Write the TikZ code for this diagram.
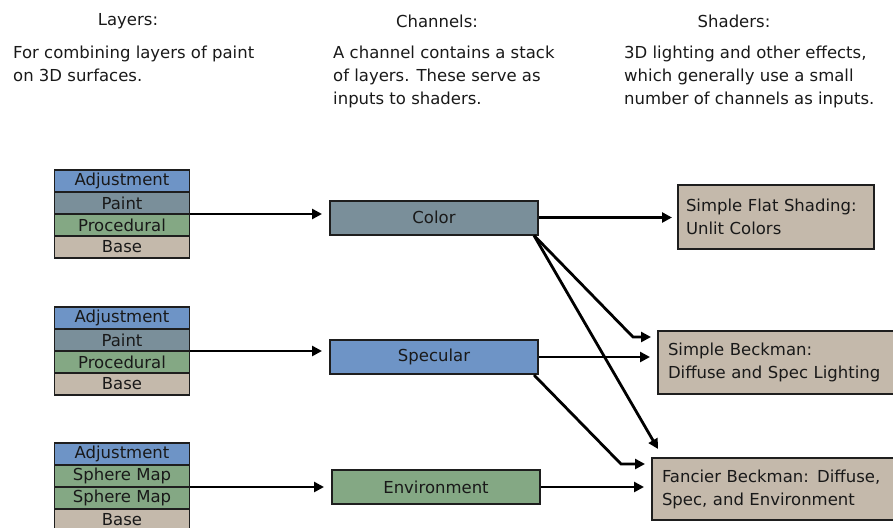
\documentclass[tikz,border=0pt]{standalone}
\usepackage{fontspec}
\setmainfont{DejaVu Sans}
\usepackage{tikz}
\usetikzlibrary{arrows.meta,positioning}
\definecolor{adjblue}{RGB}{110,148,198}
\definecolor{paintgray}{RGB}{122,143,154}
\definecolor{procgreen}{RGB}{132,168,132}
\definecolor{basetan}{RGB}{196,185,171}
\definecolor{edge}{RGB}{30,30,30}
\definecolor{ink}{RGB}{25,25,25}

\begin{document}
\begin{tikzpicture}[
    x=1pt, y=-1pt,
    every node/.style = {text=ink},
    head/.style  = {inner sep=0pt, font=\fontsize{16.5}{23}\selectfont},
    desc/.style  = {inner sep=0pt, anchor=north west, align=left,
                    font=\fontsize{16.5}{23}\selectfont},
    layer/.style = {draw=edge, line width=1.4pt, outer sep=0pt, inner sep=0pt,
                    minimum width=135pt, minimum height=22pt,
                    font=\fontsize{16.5}{18}\selectfont},
    chan/.style  = {draw=edge, line width=2pt, inner sep=0pt,
                    minimum width=208pt, minimum height=34pt,
                    font=\fontsize{16.5}{18}\selectfont},
    shader/.style= {draw=edge, line width=2pt, fill=basetan, anchor=north west,
                    align=left, inner ysep=0pt, font=\fontsize{16.5}{23}\selectfont},
    arr/.style   = {-{Triangle[length=10pt,width=10pt]}, line width=2.8pt, draw=black},
  ]
    \clip (0,0) rectangle (893,527);

    % headings
    \node[head] (hlay) at (128,21) {Layers:};
    \node[head] (hch)  at (437,21) {Channels:};
    \node[head] (hsh)  at (734,21) {Shaders:};
    \node[desc] (dlay) at (13,46)  {For combining layers of paint\\on 3D surfaces.};
    \node[desc] (dch)  at (333,46) {A channel contains a stack\\of layers. These serve as\\inputs to shaders.};
    \node[desc] (dsh)  at (624,46) {3D lighting and other effects,\\which generally use a small\\number of channels as inputs.};

    % layer stacks
    \node[layer, fill=adjblue]               (a1) at (122,181) {Adjustment};
    \node[layer, fill=paintgray, below=0pt of a1] (p1) {Paint};
    \node[layer, fill=procgreen, below=0pt of p1] (r1) {Procedural};
    \node[layer, fill=basetan,   below=0pt of r1] (b1) {Base};

    \node[layer, fill=adjblue]               (a2) at (122,318) {Adjustment};
    \node[layer, fill=paintgray, below=0pt of a2] (p2) {Paint};
    \node[layer, fill=procgreen, below=0pt of p2] (r2) {Procedural};
    \node[layer, fill=basetan,   below=0pt of r2] (b2) {Base};

    \node[layer, fill=adjblue]               (a3) at (122,454) {Adjustment};
    \node[layer, fill=procgreen, below=0pt of a3] (m3) {Sphere Map};
    \node[layer, fill=procgreen, below=0pt of m3] (n3) {Sphere Map};
    \node[layer, fill=basetan,   below=0pt of n3] (b3) {Base};

    % channels
    \node[chan, fill=paintgray] (col)  at (434,217.5) {Color};
    \node[chan, fill=adjblue]   (spec) at (434,357)   {Specular};
    \node[chan, fill=procgreen] (env)  at (436,487)   {Environment};

    % shaders
    \node[shader, minimum width=196pt, minimum height=64pt, text width=180pt,
          inner xsep=8pt]  (flat) at (677,184) {Simple Flat Shading:\\Unlit Colors};
    \node[shader, minimum width=250pt, minimum height=63pt, text width=230pt,
          inner xsep=10pt] (sb)   at (657,330) {Simple Beckman:\\Diffuse and Spec Lighting};
    \node[shader, minimum width=256pt, minimum height=62pt, text width=236pt,
          inner xsep=10pt] (fb)   at (651,457) {Fancier Beckman: Diffuse,\\Spec, and Environment};

    % connectors
    \draw[arr, shorten >=7pt] (p1.south east) -- (p1.south east -| col.west);
    \draw[arr, shorten >=7pt] (p2.south east) -- (p2.south east -| spec.west);
    \draw[arr, shorten >=7pt] (m3.south east) -- (m3.south east -| env.west);

    \draw[arr, shorten >=5pt] (col.east) -- (col.east -| flat.west);
    \draw[arr] ([xshift=-5pt]col.south east) -- ([xshift=-24pt,yshift=-7pt]sb.north west)
                                             -- ([xshift=-6pt,yshift=-7pt]sb.north west);
    \draw[arr] ([xshift=-5pt]col.south east) -- ([xshift=7pt,yshift=8pt]fb.north west);

    \draw[arr, shorten >=7pt] (spec.east) -- (spec.east -| sb.west);
    \draw[arr] ([xshift=-5pt]spec.south east) -- ([xshift=-30pt,yshift=-7pt]fb.north west)
                                              -- ([xshift=-6pt,yshift=-7pt]fb.north west);

    \draw[arr, shorten >=7pt] (env.east) -- (env.east -| fb.west);
  \end{tikzpicture}
\end{document}
